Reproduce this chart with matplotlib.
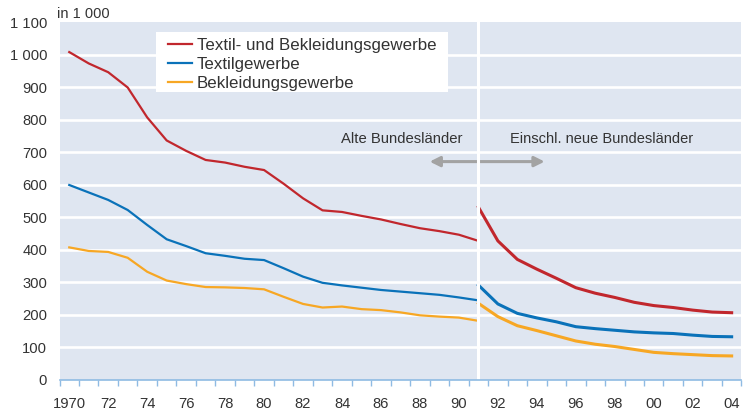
import matplotlib.pyplot as plt
from matplotlib.patches import Rectangle

plt.rcParams['font.family'] = ['Liberation Sans', 'DejaVu Sans']

# Westdeutschland (alte Bundeslaender) 1970-1991, Deutschland 1991-2004, in 1 000
years_old = list(range(1970, 1992))
years_new = list(range(1991, 2005))

red_old = [1009, 974, 947, 900, 808, 737, 705, 677, 669, 656, 646, 604, 559, 522, 517, 505, 494, 480, 467, 458, 447, 428]
blue_old = [600, 577, 554, 523, 477, 433, 412, 390, 382, 373, 369, 344, 318, 299, 291, 284, 277, 272, 267, 262, 254, 245]
orange_old = [408, 397, 394, 376, 333, 306, 295, 286, 285, 283, 279, 256, 234, 223, 226, 218, 215, 208, 199, 195, 192, 182]

red_new = [532, 428, 371, 341, 313, 284, 267, 254, 239, 229, 223, 215, 209, 207]
blue_new = [292, 234, 205, 191, 179, 164, 158, 153, 148, 145, 143, 138, 134, 133]
orange_new = [236, 195, 167, 152, 136, 120, 110, 103, 94, 85, 81, 78, 75, 74]

labels = ["Textil- und Bekleidungsgewerbe", "Textilgewerbe", "Bekleidungsgewerbe"]
colors = ["#c1272d", "#0a72b9", "#f7a724"]

xtick_years = list(range(1970, 2005, 2))
xtick_labels = ["1970"] + [str(y)[2:] for y in xtick_years[1:]]
ytick_vals = list(range(0, 1101, 100))
ytick_labels = ["0", "100", "200", "300", "400", "500", "600", "700", "800", "900", "1 000", "1 100"]

txt = "#333333"
fig = plt.figure(figsize=(7.44, 4.12), dpi=100)
ax = fig.add_axes([0.080, 0.0777, 0.9165, 0.8677])
ax.set_facecolor("#dfe6f1")

for y in ytick_vals[1:-1]:
    ax.axhline(y, color="white", lw=1.9, zorder=1)

for old, new, lab, c in zip([red_old, blue_old, orange_old], [red_new, blue_new, orange_new], labels, colors):
    ax.plot(years_old, old, color=c, lw=1.6, label=lab, zorder=3)
    ax.plot(years_new, new, color=c, lw=2.2, zorder=3)

# arrows and region labels
ax.annotate("", xy=(1988.5, 672), xytext=(1991, 672),
            arrowprops=dict(arrowstyle="-|>,head_length=0.6,head_width=0.3", color="#a3a3a3", lw=2.2, shrinkA=0, shrinkB=0), zorder=2)
ax.annotate("", xy=(1994.4, 672), xytext=(1991, 672),
            arrowprops=dict(arrowstyle="-|>,head_length=0.6,head_width=0.3", color="#a3a3a3", lw=2.2, shrinkA=0, shrinkB=0), zorder=2)
ax.text(1990.17, 742, "Alte Bundesländer", ha="right", va="center", fontsize=10.7, color=txt)
ax.text(1992.6, 742, "Einschl. neue Bundesländer", ha="left", va="center", fontsize=10.5, color=txt)

ax.axvline(1991, color="white", lw=2.2, zorder=4)

ax.set_xlim(1969.5, 2004.5)
ax.set_ylim(0, 1100)
ax.set_xticks(xtick_years)
ax.set_xticklabels(xtick_labels, fontsize=10.6, color=txt)
ax.set_xticks([y + 0.5 for y in range(1969, 2005)], minor=True)
ax.tick_params(axis="x", which="major", length=0, pad=12)
ax.tick_params(axis="x", which="minor", length=4, width=1, color="#8fbbe3", direction="out")
ax.set_yticks(ytick_vals)
ax.set_yticklabels(ytick_labels, fontsize=10.6, color=txt)
ax.tick_params(axis="y", length=0, pad=9)

for s in ["top", "right", "left"]:
    ax.spines[s].set_visible(False)
ax.spines["bottom"].set_color("#8fbbe3")
ax.spines["bottom"].set_linewidth(1.2)
ax.spines["bottom"].set_zorder(5)

fig.text(57.3 / 744, 1 - 13.5 / 412, "in 1 000", fontsize=10.5, color=txt, ha="left", va="center")

# white box behind the legend
ax.add_patch(Rectangle((0.1415, 0.8064), 0.4282, 0.1662, transform=ax.transAxes,
                       facecolor="white", edgecolor="none", zorder=6))
leg = ax.legend(loc="upper left", bbox_to_anchor=(0.1591, 0.9560), borderaxespad=0, borderpad=0,
                fontsize=12.2, frameon=False, handlelength=1.4, handletextpad=0.3, labelspacing=0.24)
for t in leg.get_texts():
    t.set_color(txt)
leg.set_zorder(7)

plt.savefig("out.png", dpi=100)
